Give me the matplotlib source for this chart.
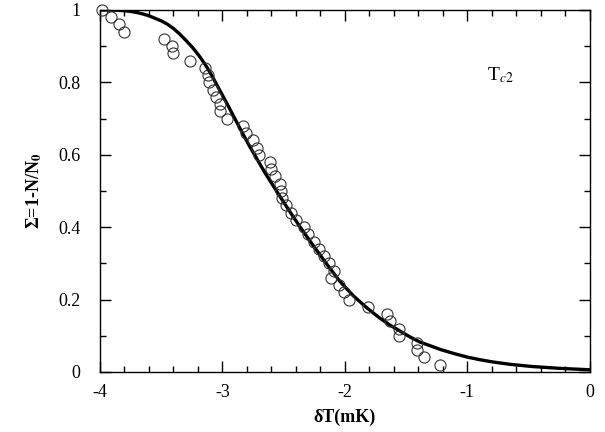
import numpy as np
import matplotlib
matplotlib.use("Agg")
from matplotlib import pyplot as plt
from matplotlib.ticker import MultipleLocator, FuncFormatter

plt.rcParams['font.family'] = ['Liberation Serif', 'DejaVu Serif']
plt.rcParams['mathtext.fontset'] = 'stix'

# measured points (open circles)
dT_data = [-3.98, -3.91, -3.84, -3.80, -3.48, -3.41, -3.40, -3.26, -3.14, -3.12,
           -3.11, -3.08, -3.05, -3.02, -3.02, -2.96, -2.83, -2.81, -2.75, -2.72,
           -2.70, -2.61, -2.60, -2.57, -2.53, -2.52, -2.51, -2.48, -2.44, -2.40,
           -2.33, -2.30, -2.25, -2.21, -2.17, -2.13, -2.09, -2.11, -2.05, -2.01,
           -1.97, -1.81, -1.66, -1.63, -1.56, -1.56, -1.41, -1.41, -1.35, -1.22]
sigma_data = [1.00, 0.98, 0.96, 0.94, 0.92, 0.90, 0.88, 0.86, 0.84, 0.82,
              0.80, 0.78, 0.76, 0.74, 0.72, 0.70, 0.68, 0.66, 0.64, 0.62,
              0.60, 0.58, 0.56, 0.54, 0.52, 0.50, 0.48, 0.46, 0.44, 0.42,
              0.40, 0.38, 0.36, 0.34, 0.32, 0.30, 0.28, 0.26, 0.24, 0.22,
              0.20, 0.18, 0.16, 0.14, 0.12, 0.10, 0.08, 0.06, 0.04, 0.02]

# fitted curve
dT_fit = [-4.0, -3.9, -3.8, -3.75, -3.7, -3.65, -3.6, -3.55, -3.5, -3.45,
          -3.4, -3.35, -3.3, -3.24, -3.18, -3.13, -3.08, -3.0, -2.94, -2.85,
          -2.78, -2.71, -2.65, -2.59, -2.53, -2.48, -2.43, -2.35, -2.26, -2.15,
          -2.04, -1.93, -1.82, -1.72, -1.63, -1.55, -1.47, -1.39, -1.3, -1.22,
          -1.1, -1.0, -0.9, -0.8, -0.65, -0.47, -0.25, 0.0]
sigma_fit = [1.0, 0.9995, 0.998, 0.996, 0.993, 0.989, 0.984, 0.977, 0.970, 0.961,
             0.949, 0.934, 0.917, 0.895, 0.869, 0.844, 0.815, 0.765, 0.727, 0.669,
             0.625, 0.584, 0.549, 0.517, 0.485, 0.459, 0.433, 0.393, 0.350, 0.299,
             0.250, 0.210, 0.177, 0.150, 0.129, 0.113, 0.097, 0.083, 0.072, 0.062,
             0.050, 0.041, 0.034, 0.028, 0.021, 0.015, 0.010, 0.006]

fig = plt.figure(figsize=(6.05, 4.32), dpi=100)
ax = fig.add_axes([0.165, 0.139, 0.81, 0.838])

ax.plot(dT_fit, sigma_fit, color='black', lw=2.4, zorder=3, solid_joinstyle='round')
ax.plot(dT_data, sigma_data, 'o', mfc='none', mec='#333333', mew=0.8, ms=8,
        zorder=4, clip_on=False)

ax.set_xlim(-4, 0)
ax.set_ylim(0, 1)
ax.xaxis.set_major_locator(MultipleLocator(1))
ax.xaxis.set_minor_locator(MultipleLocator(0.2))
ax.yaxis.set_major_locator(MultipleLocator(0.2))
ax.yaxis.set_minor_locator(MultipleLocator(0.1))
ax.xaxis.set_major_formatter(FuncFormatter(lambda v, p: '%d' % round(v)))
ax.yaxis.set_major_formatter(FuncFormatter(lambda v, p: '%g' % round(v, 1)))
ax.tick_params(which='both', direction='in', top=True, right=True, labelsize=13, width=1)
ax.tick_params(which='major', length=8)
ax.tick_params(axis='y', which='major', pad=14)
ax.tick_params(axis='x', which='major', pad=9)
ax.tick_params(which='minor', length=4)
for s in ax.spines.values():
    s.set_linewidth(1)

ax.set_xlabel('δT(mK)', fontsize=13, fontweight='bold', labelpad=5)
ax.set_ylabel(r'Σ=1-N/N$_\mathbf{0}$', fontsize=13, fontweight='bold', labelpad=10)
ax.text(-0.73, 0.82, r'T$_{c2}$', fontsize=14, ha='center', va='center')

fig.savefig('out.png', dpi=100)
